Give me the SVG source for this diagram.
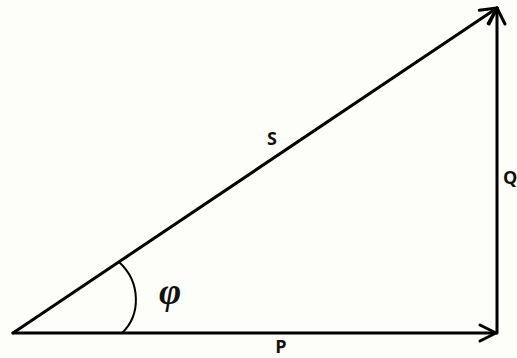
<svg xmlns="http://www.w3.org/2000/svg" width="517" height="358" viewBox="0 0 517 358">
  <style>
    .vec { stroke: #000; stroke-width: 3; fill: none; stroke-linecap: round; marker-end: url(#arr); }
    .lbl { font-family: "Open Sans", "Liberation Sans", sans-serif; font-weight: bold; font-size: 18px; fill: #111; text-anchor: middle; }
    .phi { font-family: "Liberation Serif", "DejaVu Serif", serif; font-style: italic; font-weight: bold; font-size: 38px; fill: #111; text-anchor: middle; }
  </style>
  <defs>
    <marker id="arr" markerUnits="userSpaceOnUse" markerWidth="24" markerHeight="24" viewBox="-20 -12 24 24" refX="0" refY="0" orient="auto">
      <path d="M -16,-8 L 0,0 L -16,8" fill="none" stroke="#000" stroke-width="3" stroke-linecap="round" stroke-linejoin="round"/>
    </marker>
  </defs>
  <rect width="517" height="358" fill="#fdfdf9"/>
  <g id="connectors">
    <path id="P" class="vec" d="M 13,333 L 496,333"/>
    <path id="Q" class="vec" d="M 497,333 L 497,8"/>
    <path id="S" class="vec" d="M 13,333 L 497,8"/>
    <path id="angle" d="M 122,333 C 141,315 141,282 119,262" fill="none" stroke="#000" stroke-width="2"/>
  </g>
  <g id="labels">
    <text class="lbl" x="272" y="145">S</text>
    <text class="lbl" x="281" y="353">P</text>
    <text class="lbl" x="503" y="184" style="text-anchor:start">Q</text>
    <text class="phi" x="170" y="304">φ</text>
  </g>
</svg>
